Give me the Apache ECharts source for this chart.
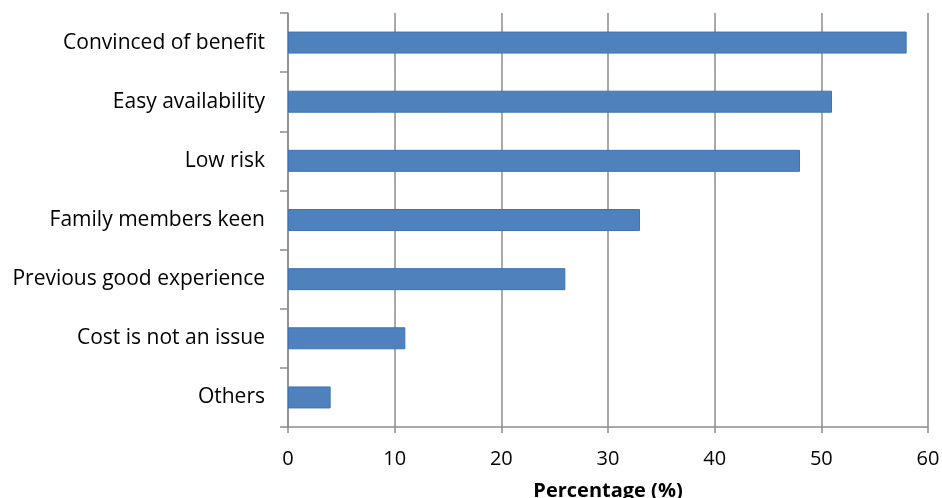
<!DOCTYPE html>
<html><head><meta charset="utf-8">
<script src="https://cdn.jsdelivr.net/npm/echarts@6/dist/echarts.min.js"></script>
<style>html,body{margin:0;padding:0;background:#fff}#c{width:942px;height:498px}</style>
</head><body><div id="c"></div>
<script>
const categories = ["Convinced of benefit","Easy availability","Low risk","Family members keen","Previous good experience","Cost is not an issue","Others"];
const values = [58, 51, 48, 33, 26, 11, 4];
const xTicks = [0, 10, 20, 30, 40, 50, 60];
const xTitle = "Percentage (%)";

const chart = echarts.init(document.getElementById('c'));
chart.setOption({
  animation: false,
  grid: {left: 288, right: 14, top: 13, bottom: 71, containLabel: false, outerBoundsMode: 'none'},
  xAxis: {
    type: 'value', min: xTicks[0], max: xTicks[xTicks.length-1], interval: 10,
    name: xTitle, nameLocation: 'middle', nameGap: 54,
    nameTextStyle: {fontFamily: 'Open Sans', fontSize: 20, fontWeight: 'bold', color: '#000'},
    axisLine: {show: true, lineStyle: {color: '#8c8c8c', width: 1.5}},
    axisTick: {show: true, length: 6, lineStyle: {color: '#8c8c8c', width: 1.5}},
    axisLabel: {fontFamily: 'Open Sans', fontSize: 20, color: '#000', margin: 22},
    splitLine: {show: true, lineStyle: {color: '#8c8c8c', width: 1.5}}
  },
  yAxis: {
    type: 'category', data: categories, inverse: true,
    axisLine: {show: true, lineStyle: {color: '#8c8c8c', width: 1.5}},
    axisTick: {show: true, length: 8, lineStyle: {color: '#8c8c8c', width: 1.5}},
    axisLabel: {fontFamily: 'Open Sans', fontSize: 21, color: '#000', margin: 23}
  },
  series: [{
    type: 'bar', data: values, barWidth: 22,
    itemStyle: {color: '#4F81BD', borderColor: '#3f74b5', borderWidth: 1}
  }]
});
</script></body></html>
